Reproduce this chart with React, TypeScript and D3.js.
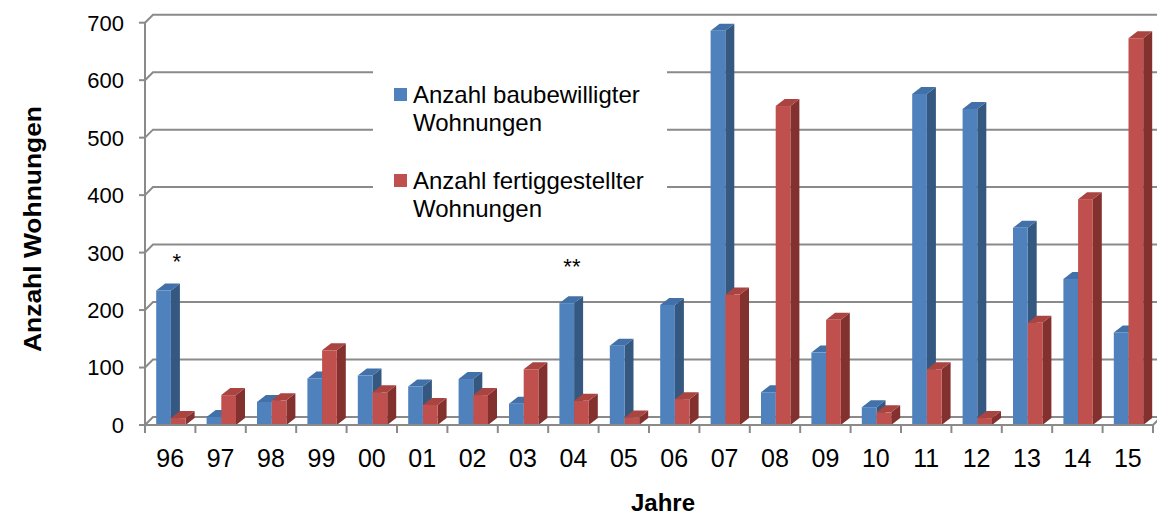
import React from "react";
import * as d3 from "d3";

const years = ["96","97","98","99","00","01","02","03","04","05","06","07","08","09","10","11","12","13","14","15"];
const baubewilligt = [234, 14, 40, 81, 86, 67, 80, 37, 212, 138, 209, 686, 57, 126, 31, 576, 550, 343, 254, 161];
const fertiggestellt = [12, 52, 43, 130, 57, 35, 52, 97, 42, 13, 45, 227, 555, 183, 22, 97, 12, 178, 393, 673];
const yTicks = [0, 100, 200, 300, 400, 500, 600, 700];
const seriesNames = ["Anzahl baubewilligter|Wohnungen", "Anzahl fertiggestellter|Wohnungen"];
const annotationYears = ["96", "04"];
const annotationTexts = ["*", "**"];
const annotationLevels = [293, 285];

const W = 1157, H = 517;
const FONT = "'Liberation Sans', Arial, sans-serif";
const GRID = "#8a8a8a";
const colors = [
  { front: "#4F81BD", top: "#4270A9", side: "#34587F" },
  { front: "#C0504D", top: "#A94441", side: "#83312F" },
];

export default function App() {
  const x = d3.scaleBand<string>().domain(years).range([145, 1153]).padding(0);
  const y = d3.scaleLinear().domain([0, 700]).range([425, 22.7]);
  const depthX = 9, depthY = -7;
  const gridDX = 8, gridDY = -8;
  const barW = 14.7, inset = 11.2;
  const base = y(0);
  const annOffsets = [6.5, -1.5];

  const bars: React.ReactNode[] = [];
  years.forEach((yr, i) => {
    [baubewilligt[i], fertiggestellt[i]].forEach((v, s) => {
      const x0 = (x(yr) as number) + inset + s * barW;
      const x1 = x0 + barW;
      const yt = y(v);
      const c = colors[s];
      bars.push(
        <g key={yr + s}>
          <polygon points={`${x1},${yt} ${x1 + depthX},${yt + depthY} ${x1 + depthX},${base + depthY} ${x1},${base}`} fill={c.side} />
          <polygon points={`${x0},${yt} ${x0 + depthX},${yt + depthY} ${x1 + depthX},${yt + depthY} ${x1},${yt}`} fill={c.top} />
          <rect x={x0} y={yt} width={barW} height={base - yt} fill={c.front} />
        </g>
      );
    });
  });

  return (
    <div style={{ position: "fixed", left: 0, top: 0 }}>
      <svg width={W} height={H} style={{ display: "block", background: "#fff" }}>
        {yTicks.map((t) => (
          <g key={t}>
            <line x1={139} x2={145} y1={y(t)} y2={y(t)} stroke={GRID} strokeWidth={2} />
            <polyline
              points={`145,${y(t)} ${145 + gridDX},${y(t) + gridDY} ${W},${y(t) + gridDY}`}
              fill="none" stroke={GRID} strokeWidth={2}
            />
            <text x={124} y={y(t)} dy="0.36em" textAnchor="end" fontFamily={FONT} fontSize={22} fill="#000">{t}</text>
          </g>
        ))}
        <line x1={145} x2={145} y1={y(700)} y2={base} stroke={GRID} strokeWidth={2} />
        <rect x={373} y={40} width={294} height={190} fill="#fff" />
        {bars}
        <line x1={145} x2={1153} y1={base} y2={base} stroke={GRID} strokeWidth={2} />
        <line x1={1153} x2={1153 + gridDX} y1={base} y2={base + gridDY} stroke={GRID} strokeWidth={2} />
        {years.map((yr) => (
          <line key={"t" + yr} x1={x(yr)} x2={x(yr)} y1={base} y2={base + 8} stroke={GRID} strokeWidth={2} />
        ))}
        <line x1={1153} x2={1153} y1={base} y2={base + 8} stroke={GRID} strokeWidth={2} />
        {years.map((yr) => (
          <text key={"l" + yr} x={(x(yr) as number) + x.bandwidth() / 2} y={467} textAnchor="middle" fontFamily={FONT} fontSize={25} fill="#000">{yr}</text>
        ))}
        {annotationYears.map((yr, i) => (
          <text key={"a" + i} x={(x(yr) as number) + x.bandwidth() / 2 + annOffsets[i]} y={y(annotationLevels[i]) + 12.5} textAnchor="middle" fontFamily={FONT} fontSize={22} fill="#000">{annotationTexts[i]}</text>
        ))}
        {seriesNames.map((name, s) => {
          const lines = name.split("|");
          const top = 88 + s * 86;
          return (
            <g key={"lg" + s}>
              <rect x={394} y={top} width={13} height={13} fill={colors[s].front} />
              <text fontFamily={FONT} fontSize={24} fill="#000">
                <tspan x={413} y={top + 14.5}>{lines[0]}</tspan>
                <tspan x={413} y={top + 42.5}>{lines[1]}</tspan>
              </text>
            </g>
          );
        })}
        <text x={663} y={511} textAnchor="middle" fontFamily={FONT} fontSize={24} fontWeight="bold" fill="#000">Jahre</text>
        <text transform="translate(41,229) rotate(-90)" textAnchor="middle" fontFamily={FONT} fontSize={24} fontWeight="bold" fill="#000" textLength={246} lengthAdjust="spacingAndGlyphs">Anzahl Wohnungen</text>
      </svg>
    </div>
  );
}
